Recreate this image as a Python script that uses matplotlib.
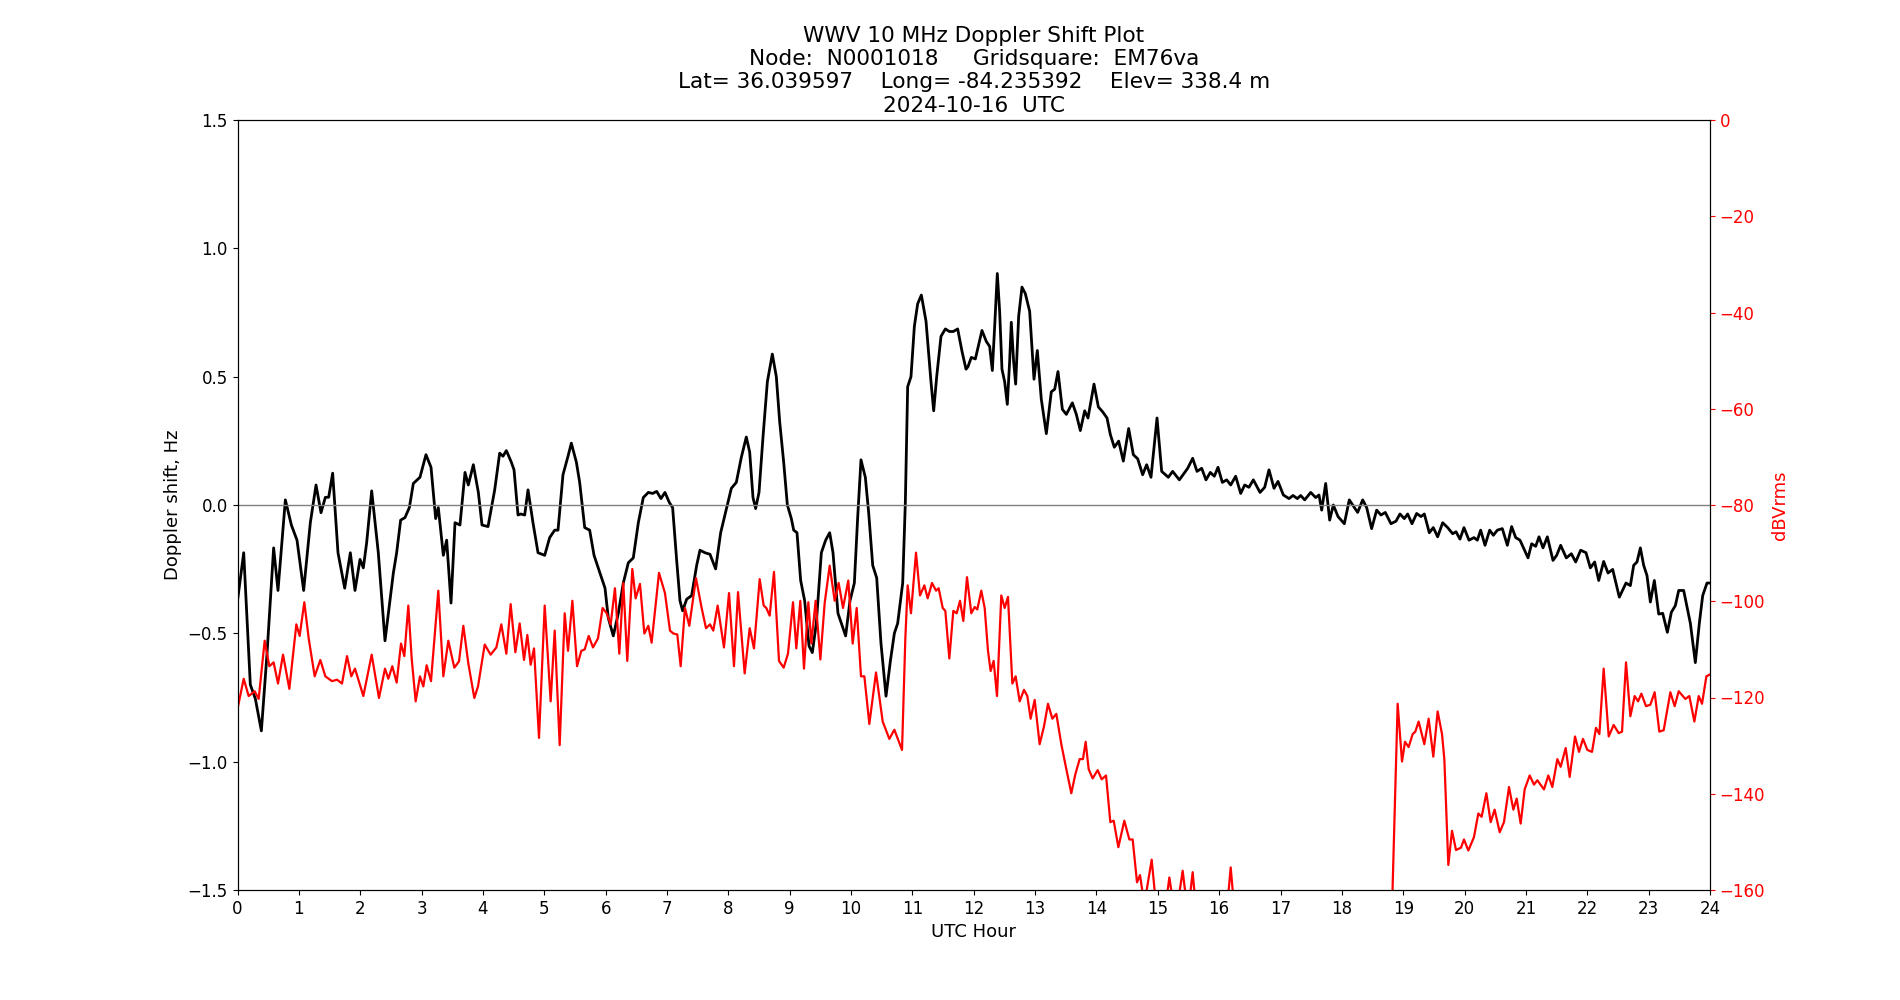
import matplotlib
matplotlib.use("Agg")
import matplotlib.pyplot as plt

# Doppler shift (Hz) vs UTC hour
dop_hours = [0.0, 0.101, 0.209, 0.291, 0.389, 0.481, 0.589, 0.660, 0.780, 0.878, 0.970, 1.078, 1.187, 1.280,
             1.361, 1.432, 1.486, 1.551, 1.638, 1.747, 1.839,
             1.915, 1.997, 2.051, 2.105, 2.187, 2.295, 2.404, 2.540, 2.594, 2.659, 2.730, 2.801, 2.866, 2.974,
             3.072, 3.154, 3.230, 3.273, 3.355, 3.409, 3.480, 3.545, 3.626, 3.708, 3.762, 3.844,
             3.925, 3.985, 4.083, 4.192, 4.273, 4.327, 4.382, 4.463, 4.507, 4.572, 4.615, 4.681, 4.735, 4.816,
             4.898, 5.007, 5.088, 5.170, 5.224, 5.305, 5.387, 5.441, 5.523, 5.577, 5.659, 5.740, 5.811, 5.865,
             5.908, 5.990, 6.044, 6.125, 6.207, 6.288, 6.370, 6.451, 6.533, 6.614, 6.696, 6.766, 6.832, 6.902,
             6.967, 7.038, 7.092, 7.158, 7.212, 7.255, 7.321, 7.402, 7.484, 7.538, 7.619, 7.701, 7.793, 7.875,
             7.945, 8.049, 8.130, 8.212, 8.293, 8.348, 8.402, 8.445, 8.500, 8.565, 8.636, 8.717, 8.782, 8.837,
             8.902, 8.962, 9.027, 9.065, 9.119, 9.179, 9.244, 9.315, 9.369, 9.434, 9.516, 9.586, 9.652, 9.706,
             9.787, 9.912,
             9.983, 10.054, 10.108, 10.162, 10.233, 10.287, 10.353, 10.418, 10.488, 10.570, 10.641, 10.706,
             10.760, 10.842, 10.885, 10.923, 10.977, 11.032, 11.086, 11.146, 11.222, 11.303, 11.347, 11.396,
             11.466, 11.537, 11.602, 11.667, 11.738, 11.809, 11.874,
             11.906, 11.960, 12.026, 12.134, 12.205, 12.259, 12.303, 12.341, 12.384, 12.422, 12.460, 12.504,
             12.547, 12.585, 12.612, 12.650, 12.683, 12.732, 12.786, 12.840, 12.911, 12.982, 13.036, 13.101,
             13.183, 13.264, 13.319, 13.373, 13.444, 13.509, 13.607, 13.672, 13.737, 13.808, 13.862,
             13.960, 14.031, 14.101, 14.172, 14.226, 14.291, 14.362, 14.438, 14.525, 14.601, 14.672, 14.753,
             14.818, 14.889, 14.987, 15.063, 15.171, 15.242, 15.351, 15.487, 15.568, 15.639, 15.715, 15.785,
             15.856,
             15.921, 15.981, 16.052, 16.122, 16.188, 16.269, 16.351, 16.416, 16.486, 16.557, 16.666, 16.742,
             16.812, 16.894, 16.959, 17.046, 17.138, 17.204, 17.274, 17.329, 17.394, 17.492, 17.573, 17.627,
             17.671, 17.736, 17.801, 17.861, 17.937,
             18.040, 18.121, 18.176, 18.257, 18.339, 18.404, 18.485, 18.567, 18.637, 18.708, 18.800, 18.882,
             18.947, 19.018, 19.072, 19.143, 19.219, 19.289, 19.344, 19.425, 19.490, 19.561, 19.643, 19.724,
             19.806, 19.860,
             19.925, 19.990, 20.072, 20.153, 20.208, 20.262, 20.333, 20.409, 20.469, 20.534, 20.615, 20.697,
             20.767, 20.833, 20.903, 20.968, 21.034, 21.093, 21.159, 21.213, 21.278, 21.349, 21.441, 21.501,
             21.566, 21.658, 21.740, 21.811, 21.892,
             21.979, 22.050, 22.120, 22.186, 22.267, 22.338, 22.414, 22.522, 22.631, 22.702, 22.756, 22.810,
             22.865, 22.919, 22.973, 23.028, 23.093, 23.164, 23.229, 23.305, 23.370, 23.435, 23.490, 23.571,
             23.680, 23.761, 23.826, 23.881, 23.951, 24.0]
dop_values = [-0.373, -0.186, -0.70, -0.755, -0.88, -0.58, -0.167, -0.333, 0.02, -0.078, -0.137, -0.333, -0.069,
              0.078, -0.03, 0.03, 0.03, 0.124, -0.186, -0.324, -0.186,
              -0.333, -0.212, -0.245, -0.147, 0.055, -0.186, -0.529, -0.265, -0.186, -0.059, -0.049, -0.01,
              0.084, 0.108, 0.196, 0.147, -0.053, -0.01, -0.196, -0.137, -0.382, -0.069, -0.078, 0.127, 0.078,
              0.157,
              0.05, -0.078, -0.084, 0.059, 0.202, 0.190, 0.212, 0.167, 0.137, -0.039, -0.035, -0.039, 0.059,
              -0.069, -0.186, -0.196, -0.127, -0.098, -0.098, 0.118, 0.190, 0.241, 0.167, 0.088, -0.088, -0.098,
              -0.196, -0.235,
              -0.265, -0.324, -0.441, -0.510, -0.422, -0.304, -0.225, -0.206, -0.069, 0.029, 0.049, 0.045, 0.053,
              0.025, 0.049, 0.010, -0.010, -0.216, -0.373, -0.412, -0.367, -0.353, -0.235, -0.176, -0.186,
              -0.192, -0.249, -0.108,
              -0.039, 0.065, 0.088, 0.186, 0.265, 0.206, 0.029, -0.014, 0.049, 0.265, 0.480, 0.588, 0.5, 0.324,
              0.167, 0.0, -0.053, -0.098, -0.108, -0.294, -0.373, -0.549, -0.575, -0.461, -0.186, -0.137, -0.108,
              -0.186, -0.422, -0.510,
              -0.373, -0.304, -0.049, 0.176, 0.108, -0.029, -0.235, -0.284, -0.539, -0.745, -0.608, -0.5, -0.461,
              -0.304, 0.01, 0.461, 0.5, 0.696, 0.784, 0.818, 0.716, 0.480, 0.367, 0.5, 0.657, 0.686, 0.676,
              0.676, 0.686, 0.598, 0.529,
              0.539, 0.575, 0.569, 0.680, 0.637, 0.618, 0.524, 0.696, 0.902, 0.755, 0.529, 0.480, 0.392, 0.559,
              0.712, 0.559, 0.471, 0.735, 0.849, 0.824, 0.755, 0.490, 0.602, 0.412, 0.278, 0.441, 0.451, 0.520,
              0.373, 0.353, 0.398, 0.353, 0.290, 0.367, 0.339,
              0.471, 0.382, 0.363, 0.339, 0.275, 0.225, 0.249, 0.171, 0.298, 0.196, 0.180, 0.118, 0.157, 0.108,
              0.339, 0.131, 0.108, 0.131, 0.098, 0.143, 0.182, 0.131, 0.143, 0.098, 0.127,
              0.112, 0.147, 0.088, 0.098, 0.078, 0.112, 0.045, 0.078, 0.069, 0.098, 0.049, 0.069, 0.137, 0.065,
              0.092, 0.039, 0.025, 0.037, 0.025, 0.037, 0.020, 0.049, 0.029, 0.039, -0.020, 0.084, -0.059, 0.0,
              -0.045,
              -0.073, 0.020, 0.0, -0.029, 0.020, -0.010, -0.092, -0.020, -0.039, -0.029, -0.073, -0.063, -0.035,
              -0.053, -0.035, -0.073, -0.033, -0.045, -0.035, -0.108, -0.088, -0.124, -0.069, -0.088, -0.112,
              -0.104,
              -0.133, -0.088, -0.137, -0.127, -0.137, -0.098, -0.157, -0.098, -0.118, -0.098, -0.092, -0.157,
              -0.084, -0.127, -0.137, -0.171, -0.206, -0.151, -0.161, -0.124, -0.167, -0.124, -0.216, -0.196,
              -0.157, -0.206, -0.190, -0.222, -0.176,
              -0.186, -0.245, -0.222, -0.294, -0.220, -0.265, -0.251, -0.359, -0.304, -0.314, -0.235, -0.222,
              -0.167, -0.235, -0.275, -0.378, -0.294, -0.425, -0.422, -0.496, -0.418, -0.392, -0.333, -0.333,
              -0.461, -0.614, -0.461, -0.353, -0.304, -0.304]

# Signal level (dBVrms) vs UTC hour
pwr_hours = [0.0, 0.101, 0.182, 0.280, 0.345, 0.443, 0.519, 0.589, 0.660, 0.742, 0.845, 0.959, 1.013, 1.089,
             1.160, 1.258, 1.350, 1.432, 1.540, 1.622, 1.703, 1.785, 1.855,
             1.915, 2.051, 2.187, 2.306, 2.404, 2.458, 2.523, 2.594, 2.665, 2.719, 2.784, 2.839, 2.904, 2.974,
             3.029, 3.083, 3.154, 3.273, 3.355, 3.436, 3.534, 3.610, 3.681, 3.762, 3.860,
             3.920, 4.029, 4.126, 4.219, 4.300, 4.382, 4.452, 4.529, 4.599, 4.670, 4.724, 4.778, 4.833, 4.914,
             5.007, 5.104, 5.170, 5.251, 5.333, 5.387, 5.458, 5.534, 5.604, 5.659, 5.724, 5.794, 5.876,
             5.951, 6.017, 6.082, 6.152, 6.223, 6.288, 6.353, 6.435, 6.489, 6.560, 6.631, 6.696, 6.750, 6.870,
             6.967, 7.049, 7.103, 7.168, 7.223, 7.293, 7.364, 7.473, 7.565, 7.636, 7.701, 7.755, 7.826, 7.929,
             8.011, 8.092, 8.158, 8.266, 8.348, 8.418, 8.511, 8.576, 8.619, 8.674, 8.744, 8.826, 8.902, 8.972,
             9.054, 9.108, 9.173, 9.233, 9.304, 9.353, 9.423, 9.500, 9.570, 9.652, 9.733, 9.798, 9.869,
             9.955, 10.027, 10.092, 10.162, 10.217, 10.298, 10.407, 10.516, 10.624, 10.706, 10.831, 10.885,
             10.923, 10.977, 11.059, 11.124, 11.195, 11.249, 11.320, 11.385, 11.428, 11.494, 11.537, 11.602,
             11.667, 11.722, 11.776, 11.830, 11.890,
             11.960, 12.015, 12.058, 12.123, 12.178, 12.232, 12.275, 12.324, 12.379, 12.449, 12.504, 12.558,
             12.629, 12.683, 12.748, 12.819, 12.873, 12.927, 12.993, 13.074, 13.145, 13.210, 13.281, 13.346,
             13.427, 13.509, 13.590, 13.655, 13.726, 13.780, 13.824, 13.873,
             13.938, 14.020, 14.085, 14.156, 14.226, 14.281, 14.357, 14.454, 14.536, 14.590, 14.661, 14.710,
             14.780, 14.900, 14.970, 15.080, 15.188, 15.290, 15.405, 15.490, 15.568, 15.650, 15.800, 16.000,
             16.120, 16.188, 16.260, 16.500, 17.000, 17.500, 18.000, 18.500, 18.800,
             18.909, 18.980, 19.029, 19.088, 19.154, 19.197, 19.251, 19.344, 19.414, 19.490, 19.561, 19.632,
             19.670, 19.735, 19.795, 19.860, 19.942,
             19.990, 20.061, 20.153, 20.224, 20.278, 20.355, 20.425, 20.490, 20.572, 20.642, 20.724, 20.795,
             20.849, 20.914, 20.979, 21.061, 21.131, 21.186, 21.294, 21.365, 21.430, 21.512, 21.566, 21.648,
             21.713, 21.800, 21.865,
             21.930, 22.001, 22.077, 22.142, 22.197, 22.267, 22.349, 22.430, 22.512, 22.566, 22.631, 22.702,
             22.772, 22.827, 22.881, 22.957, 23.028, 23.098, 23.174, 23.245, 23.354, 23.424, 23.490, 23.598,
             23.663, 23.745, 23.816, 23.870, 23.941, 24.0]
pwr_values = [-122.4, -116.1, -119.7, -118.7, -120.3, -108.2, -113.5, -112.7, -117.1, -111.1, -118.2, -104.8,
              -107.2, -100.2, -107.7, -115.6, -112.2, -115.6, -116.6, -116.3, -117.1, -111.4, -115.6,
              -114.0, -119.7, -111.1, -120.1, -114.0, -116.1, -113.5, -116.9, -108.8, -111.4, -100.9, -111.9,
              -120.8, -115.6, -117.7, -113.3, -116.6, -97.8, -115.6, -108.2, -113.8, -112.5, -105.1, -112.9,
              -120.1,
              -117.7, -109.0, -111.1, -109.6, -104.8, -110.9, -100.6, -110.6, -104.6, -112.2, -107.0, -113.2,
              -109.8, -128.4, -100.9, -120.8, -106.1, -129.9, -102.5, -110.3, -99.9, -113.5, -110.3, -110.0,
              -107.2, -109.6, -107.7,
              -101.4, -102.5, -104.8, -97.3, -110.9, -96.2, -112.4, -93.3, -99.4, -96.4, -106.7, -105.1, -108.6,
              -94.1, -98.3, -106.1, -106.7, -106.9, -113.5, -101.4, -105.1, -95.2, -101.4, -105.6, -104.8,
              -106.1, -100.9, -109.6,
              -98.3, -113.5, -98.1, -115.0, -105.6, -109.8, -95.4, -100.9, -101.4, -103.0, -93.9, -112.4, -113.8,
              -110.9, -100.2, -109.8, -99.9, -114.0, -100.2, -108.8, -99.9, -112.1, -100.4, -92.6, -99.9, -96.2,
              -101.4,
              -95.7, -108.8, -101.4, -115.6, -115.6, -125.5, -114.8, -125.0, -128.6, -126.7, -130.9, -107.7,
              -96.7, -102.5, -89.9, -98.8, -96.7, -99.4, -96.2, -97.8, -97.3, -101.4, -102.0, -111.9, -102.0,
              -102.5, -99.9, -104.1, -95.0,
              -102.5, -101.2, -101.7, -97.8, -101.4, -110.3, -114.5, -112.4, -119.7, -98.8, -101.4, -99.1,
              -117.1, -115.6, -120.8, -118.4, -119.7, -124.4, -120.5, -129.7, -126.0, -121.3, -124.4, -123.4,
              -129.7, -134.9, -139.9, -136.0, -132.8, -132.8, -129.2, -134.9,
              -136.8, -135.1, -137.0, -136.2, -145.9, -145.6, -151.1, -145.6, -149.5, -149.5, -158.4, -156.9,
              -163.0, -153.7, -163.0, -168.0, -157.4, -166.0, -156.0, -165.0, -156.3, -168.0, -172.0, -170.0,
              -165.0, -155.3, -166.0, -172.0, -175.0, -175.0, -175.0, -175.0, -172.0,
              -121.3, -133.3, -129.2, -130.3, -127.6, -127.1, -125.0, -129.7, -124.4, -132.3, -122.9, -127.6,
              -132.8, -154.8, -147.7, -151.7, -151.2,
              -149.5, -151.8, -149.0, -144.1, -144.8, -139.9, -145.9, -143.3, -148.0, -145.9, -138.6, -143.3,
              -141.0, -146.2, -139.1, -136.2, -138.1, -137.2, -139.1, -136.2, -138.6, -132.8, -134.4, -130.5,
              -136.5, -128.1, -131.3,
              -128.6, -130.9, -131.3, -126.3, -127.6, -114.0, -128.1, -125.7, -127.4, -127.1, -112.7, -123.9,
              -119.7, -120.8, -119.2, -121.8, -121.5, -118.9, -127.1, -126.8, -118.9, -121.8, -118.7, -120.3,
              -119.7, -125.0, -119.7, -121.3, -115.6, -115.2]

x_ticks = list(range(0, 25))

title_text = ("WWV 10 MHz Doppler Shift Plot\n"
              "Node:  N0001018     Gridsquare:  EM76va\n"
              "Lat= 36.039597    Long= -84.235392    Elev= 338.4 m\n"
              "2024-10-16  UTC")

fig, ax = plt.subplots(figsize=(19, 10), dpi=100)
ax.plot(dop_hours, dop_values, color='black', linewidth=2, solid_joinstyle='round')
ax.axhline(0, color='gray', linewidth=1)
ax.set_xlim(0, 24)
ax.set_ylim(-1.5, 1.5)
ax.set_xticks(x_ticks)
ax.tick_params(labelsize=12)
ax.set_xlabel('UTC Hour', fontsize=13)
ax.set_ylabel('Doppler shift, Hz', fontsize=13)
ax.set_title(title_text, fontsize=15.6)

ax2 = ax.twinx()
ax2.plot(pwr_hours, pwr_values, color='red', linewidth=1.6, solid_joinstyle='round')
ax2.set_ylim(-160, 0)
ax2.set_ylabel('dBVrms', color='red', fontsize=13)
ax2.tick_params(axis='y', colors='red', labelsize=12)
ax2.spines['right'].set_color('black')

fig.savefig('out.png', dpi=100)
